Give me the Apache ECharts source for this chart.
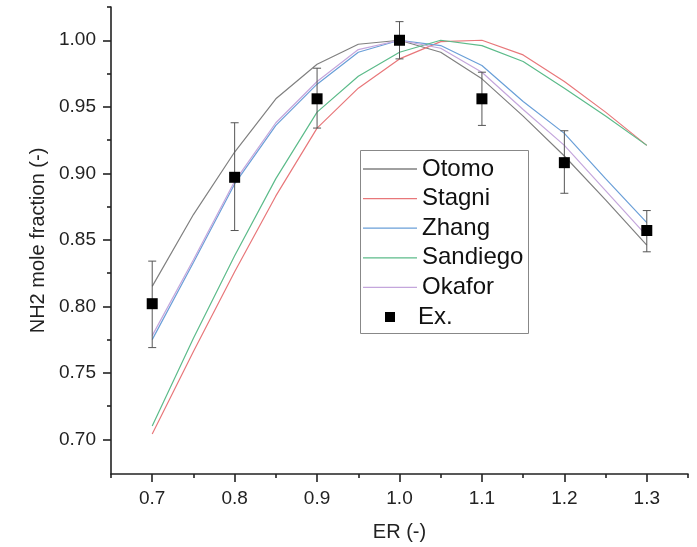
<!DOCTYPE html>
<html>
<head>
<meta charset="utf-8">
<script src="https://cdn.jsdelivr.net/npm/echarts@6/dist/echarts.min.js"></script>
<style>
  html, body { margin: 0; padding: 0; background: #fff; }
  #chart { width: 697px; height: 547px; }
</style>
</head>
<body>
<div id="chart"></div>
<script>
// equivalence ratio grid of the model curves
const er = [0.7, 0.75, 0.8, 0.85, 0.9, 0.95, 1.0, 1.05, 1.1, 1.15, 1.2, 1.25, 1.3]
const otomo = [0.815, 0.869, 0.916, 0.956, 0.982, 0.997, 1.000, 0.991, 0.971, 0.943, 0.913, 0.880, 0.846]
const stagni = [0.704, 0.766, 0.826, 0.883, 0.934, 0.964, 0.986, 0.999, 1.000, 0.989, 0.969, 0.946, 0.921]
const zhang = [0.775, 0.833, 0.892, 0.936, 0.967, 0.991, 1.000, 0.996, 0.981, 0.954, 0.930, 0.896, 0.863]
const sandiego = [0.710, 0.776, 0.838, 0.896, 0.946, 0.973, 0.991, 1.000, 0.996, 0.984, 0.964, 0.943, 0.921]
const okafor = [0.778, 0.835, 0.894, 0.938, 0.969, 0.993, 1.000, 0.994, 0.976, 0.948, 0.921, 0.887, 0.853]

// experiment with error bars
const exX = [0.7, 0.8, 0.9, 1.0, 1.1, 1.2, 1.3]
const exY = [0.802, 0.897, 0.956, 1.000, 0.956, 0.908, 0.857]
const exLow = [0.769, 0.857, 0.934, 0.986, 0.936, 0.885, 0.841]
const exHigh = [0.834, 0.938, 0.979, 1.014, 0.976, 0.932, 0.872]

// tick labels
const xTicks = [0.7, 0.8, 0.9, 1.0, 1.1, 1.2, 1.3]
const xMinor = [0.65, 0.75, 0.85, 0.95, 1.05, 1.15, 1.25, 1.35]
const yTicks = [0.70, 0.75, 0.80, 0.85, 0.90, 0.95, 1.00]
const yMinor = [0.725, 0.775, 0.825, 0.875, 0.925, 0.975, 1.025]

const font = 'Liberation Sans, Arial, sans-serif'
const axisColor = '#222'

function pairs(xs, ys) {
  return xs.map((x, i) => [x, ys[i]])
}

function lineSeries(name, ys, color) {
  return {
    name: name,
    type: 'line',
    data: pairs(er, ys),
    symbol: 'none',
    lineStyle: { color: color, width: 1.2 },
    itemStyle: { color: color },
    z: 2
  }
}

const chart = echarts.init(document.getElementById('chart'))

const legendText = { fontFamily: font, fontSize: 24, color: '#111', lineHeight: 24 }

const option = {
  animation: false,
  backgroundColor: '#fff',
  grid: { left: 111, right: 9, top: 7, bottom: 73 },
  // legend frame
  graphic: [{
    type: 'rect',
    left: 360,
    top: 150,
    shape: { width: 168, height: 183 },
    style: { fill: '#fff', stroke: '#888', lineWidth: 1 },
    z: 5
  }],
  legend: [
    {
      left: 360,
      top: 152,
      orient: 'vertical',
      icon: 'rect',
      itemWidth: 54,
      itemHeight: 1.3,
      itemGap: 5.6,
      padding: [5, 4, 6, 3],
      textStyle: legendText,
      z: 6,
      data: ['Otomo', 'Stagni', 'Zhang', 'Sandiego', 'Okafor']
    },
    {
      left: 385,
      top: 305,
      orient: 'vertical',
      icon: 'rect',
      itemWidth: 10,
      itemHeight: 10,
      padding: 0,
      textStyle: Object.assign({}, legendText, { padding: [0, 0, 0, 18] }),
      z: 6,
      data: ['Ex.']
    }
  ],
  xAxis: [
    {
      type: 'value',
      min: 0.65,
      max: 1.35,
      name: 'ER (-)',
      nameLocation: 'middle',
      nameGap: 48,
      nameTextStyle: { fontFamily: font, fontSize: 20, color: '#222' },
      splitLine: { show: false },
      axisLine: { show: true, lineStyle: { color: axisColor, width: 1.6 } },
      axisTick: { show: true, inside: false, length: 8, customValues: xTicks, lineStyle: { color: axisColor, width: 1.6 } },
      axisLabel: {
        customValues: xTicks,
        margin: 15,
        fontFamily: font,
        fontSize: 19,
        color: '#222',
        formatter: v => v.toFixed(1)
      }
    },
    {
      type: 'value',
      min: 0.65,
      max: 1.35,
      position: 'bottom',
      splitLine: { show: false },
      axisLine: { show: false },
      axisLabel: { show: false },
      axisTick: { show: true, inside: false, length: 4, customValues: xMinor, lineStyle: { color: axisColor, width: 1.6 } }
    }
  ],
  yAxis: [
    {
      type: 'value',
      min: 0.674,
      max: 1.025,
      name: 'NH2 mole fraction (-)',
      nameLocation: 'middle',
      nameGap: 62,
      nameTextStyle: { fontFamily: font, fontSize: 20, color: '#222' },
      splitLine: { show: false },
      axisLine: { show: true, lineStyle: { color: axisColor, width: 1.6 } },
      axisTick: { show: true, inside: false, length: 8, customValues: yTicks, lineStyle: { color: axisColor, width: 1.6 } },
      axisLabel: {
        customValues: yTicks,
        margin: 15,
        fontFamily: font,
        fontSize: 19,
        color: '#222',
        formatter: v => v.toFixed(2)
      }
    },
    {
      type: 'value',
      min: 0.674,
      max: 1.025,
      position: 'left',
      splitLine: { show: false },
      axisLine: { show: false },
      axisLabel: { show: false },
      axisTick: { show: true, inside: false, length: 4, customValues: yMinor, lineStyle: { color: axisColor, width: 1.6 } }
    }
  ],
  series: [
    lineSeries('Otomo', otomo, '#808080'),
    lineSeries('Stagni', stagni, '#e8777a'),
    lineSeries('Zhang', zhang, '#6a9fd8'),
    lineSeries('Sandiego', sandiego, '#5cbb8a'),
    lineSeries('Okafor', okafor, '#c4a6dc'),
    {
      // error bars
      type: 'custom',
      name: 'err',
      data: exX.map((x, i) => [x, exLow[i], exHigh[i]]),
      z: 3,
      renderItem: function (params, api) {
        const lo = api.coord([api.value(0), api.value(1)])
        const hi = api.coord([api.value(0), api.value(2)])
        const half = 4
        const style = { stroke: '#555', lineWidth: 1, fill: null }
        return {
          type: 'group',
          children: [
            { type: 'line', shape: { x1: lo[0], y1: lo[1], x2: hi[0], y2: hi[1] }, style: style },
            { type: 'line', shape: { x1: lo[0] - half, y1: lo[1], x2: lo[0] + half, y2: lo[1] }, style: style },
            { type: 'line', shape: { x1: hi[0] - half, y1: hi[1], x2: hi[0] + half, y2: hi[1] }, style: style }
          ]
        }
      }
    },
    {
      name: 'Ex.',
      type: 'scatter',
      data: pairs(exX, exY),
      symbol: 'rect',
      symbolSize: 11,
      itemStyle: { color: '#000', opacity: 1 },
      z: 4
    }
  ]
}

chart.setOption(option)
</script>
</body>
</html>
